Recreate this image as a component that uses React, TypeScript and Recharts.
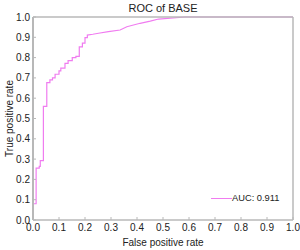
import React from 'react';
import { LineChart, Line, XAxis, YAxis } from 'recharts';

// ROC curve corners
const fpr = [
  0, 0, 0.012, 0.012, 0.024, 0.024, 0.028, 0.028, 0.04, 0.04, 0.053, 0.053,
  0.065, 0.065, 0.075, 0.075, 0.085, 0.085, 0.1, 0.1, 0.107, 0.107, 0.123, 0.123,
  0.135, 0.135, 0.151, 0.151, 0.165, 0.165, 0.178, 0.178, 0.19, 0.19, 0.2, 0.2,
  0.209, 0.209, 0.23, 0.252, 0.29, 0.335, 0.361, 0.412, 0.451, 0.483, 0.585, 1.0,
];
const tpr = [
  0, 0.08, 0.08, 0.256, 0.256, 0.264, 0.264, 0.292, 0.292, 0.56, 0.56, 0.677,
  0.677, 0.69, 0.69, 0.7, 0.7, 0.718, 0.718, 0.735, 0.735, 0.748, 0.748, 0.772,
  0.772, 0.785, 0.785, 0.8, 0.8, 0.806, 0.806, 0.853, 0.853, 0.871, 0.871, 0.898,
  0.898, 0.911, 0.915, 0.92, 0.928, 0.936, 0.952, 0.969, 0.98, 0.99, 1.0, 1.0,
];
const ticks = [0, 0.1, 0.2, 0.3, 0.4, 0.5, 0.6, 0.7, 0.8, 0.9, 1.0];
const aucLabel = 'AUC: 0.911';

const data = fpr.map((x, i) => ({ fpr: x, tpr: tpr[i] }));

const font = '"Liberation Sans", Arial, sans-serif';
const axisGray = '#b8b8b8';
const lineColor = '#f07cf0';
const tickStyle = { fontSize: 10, fill: '#222', fontFamily: font };
const fmt = (v: number) => v.toFixed(1);

export default function App() {
  return (
    <div style={{ position: 'relative', width: 300, height: 250, fontFamily: font }}>
      <style>{`body{margin:0;background:#fff}`}</style>
      <LineChart width={300} height={250} data={data} margin={{ top: 16, right: 6, bottom: 0, left: 0 }}>
        <XAxis
          dataKey="fpr"
          type="number"
          domain={[0, 1]}
          ticks={ticks}
          tickFormatter={fmt}
          height={30}
          tickSize={-3}
          tickMargin={7}
          tick={tickStyle}
          axisLine={{ stroke: axisGray, strokeWidth: 1.5 }}
          tickLine={{ stroke: axisGray }}
          label={{ value: 'False positive rate', position: 'insideBottom', offset: 4, fontSize: 10, fill: '#222' }}
        />
        <XAxis
          xAxisId="top"
          orientation="top"
          type="number"
          dataKey="fpr"
          domain={[0, 1]}
          ticks={ticks}
          height={1}
          tick={false}
          tickSize={-3}
          axisLine={{ stroke: axisGray, strokeWidth: 1.5 }}
          tickLine={{ stroke: axisGray }}
          label={{ value: 'ROC of BASE', position: 'top', offset: 4, fontSize: 11, fill: '#222' }}
        />
        <YAxis
          type="number"
          domain={[0, 1]}
          ticks={ticks}
          tickFormatter={fmt}
          width={33}
          tickSize={-3}
          tickMargin={6}
          tick={tickStyle}
          axisLine={{ stroke: axisGray, strokeWidth: 2 }}
          tickLine={{ stroke: axisGray }}
          label={{
            value: 'True positive rate',
            angle: -90,
            position: 'insideLeft',
            offset: 9,
            fontSize: 10,
            fill: '#222',
            style: { textAnchor: 'middle' },
          }}
        />
        <YAxis
          yAxisId="right"
          orientation="right"
          type="number"
          domain={[0, 1]}
          ticks={ticks}
          width={1}
          tick={false}
          tickSize={-3}
          axisLine={{ stroke: axisGray, strokeWidth: 1.5 }}
          tickLine={{ stroke: axisGray }}
        />
        <Line
          dataKey="tpr"
          type="linear"
          stroke={lineColor}
          strokeWidth={1.2}
          dot={false}
          isAnimationActive={false}
        />
        <Line
          xAxisId="top"
          yAxisId="right"
          dataKey="tpr"
          stroke="none"
          dot={false}
          legendType="none"
          isAnimationActive={false}
        />
      </LineChart>
      <div
        style={{
          position: 'absolute',
          left: 211,
          top: 193,
          display: 'flex',
          alignItems: 'center',
          fontSize: 9.3,
          color: '#222',
          whiteSpace: 'nowrap',
        }}
      >
        <span style={{ display: 'inline-block', width: 21, height: 1, background: lineColor }} />
        <span>{aucLabel}</span>
      </div>
    </div>
  );
}
